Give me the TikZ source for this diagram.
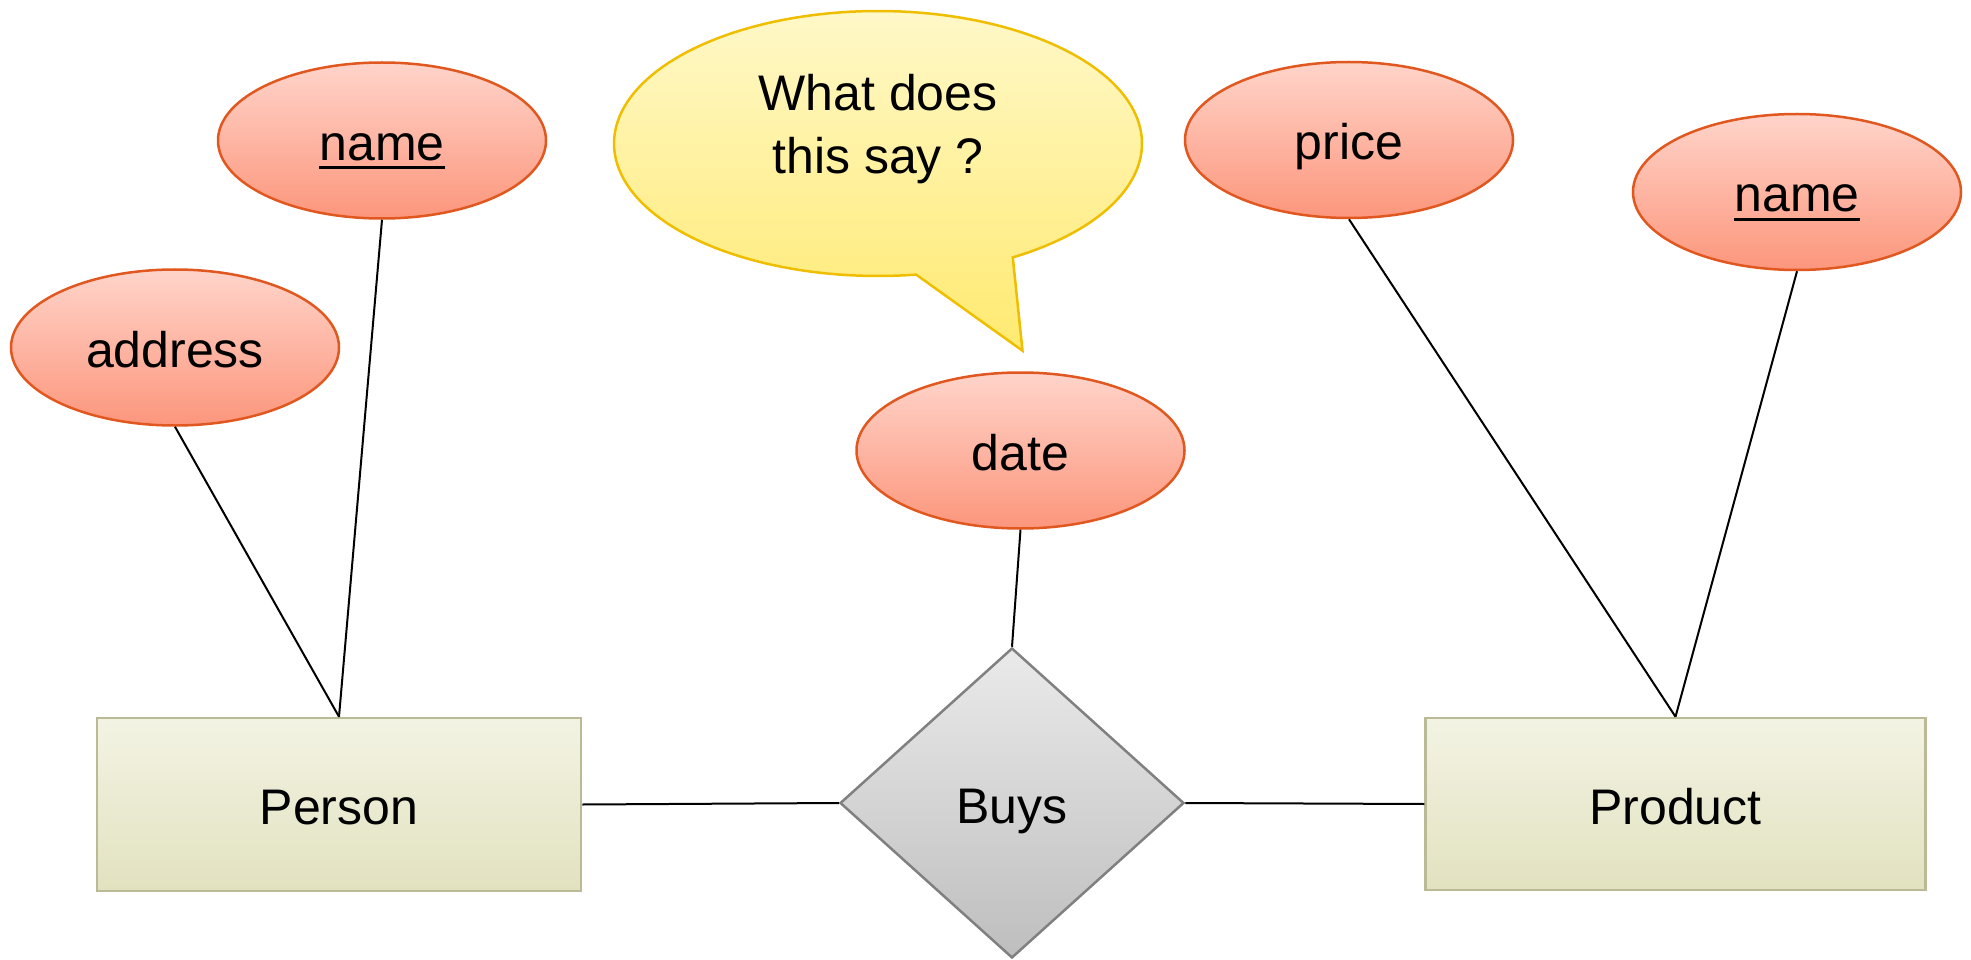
\documentclass[tikz,border=0pt]{standalone}
\usepackage{fontspec}
\setmainfont{Liberation Sans}
\usetikzlibrary{shapes.geometric}

\definecolor{attrtop}{RGB}{255,212,202}
\definecolor{attrbot}{RGB}{252,150,124}
\definecolor{attrline}{RGB}{224,88,32}
\definecolor{enttop}{RGB}{243,243,228}
\definecolor{entbot}{RGB}{226,226,192}
\definecolor{entline}{RGB}{186,186,150}
\definecolor{reltop}{RGB}{234,234,234}
\definecolor{relbot}{RGB}{190,190,190}
\definecolor{relline}{RGB}{128,128,128}
\definecolor{notetop}{RGB}{255,248,200}
\definecolor{notebot}{RGB}{255,234,112}
\definecolor{noteline}{RGB}{240,190,0}

% underlined key attribute
\newcommand\keyname[1]{\setbox0\hbox{#1}\rlap{\vrule height -6pt depth 9pt width \wd0}\box0}

\tikzset{
  label text/.style={font=\fontsize{50}{63}\selectfont, text height=52pt, text depth=12pt, inner sep=0pt},
  attr/.style={label text, ellipse, minimum width=328pt, minimum height=156pt,
    draw=attrline, line width=2.5pt, top color=attrtop, bottom color=attrbot},
  entity/.style={label text, rectangle, draw=entline, line width=2.5pt,
    top color=enttop, bottom color=entbot},
  relation/.style={label text, diamond, aspect=1.11, minimum width=344pt, minimum height=310pt,
    draw=relline, line width=2.5pt, top color=reltop, bottom color=relbot},
  link/.style={line width=2pt, black},
  callout/.style={draw=noteline, line width=2.5pt, top color=notetop, bottom color=notebot},
}

\begin{document}
\begin{tikzpicture}[x=1pt,y=-1pt]
\useasboundingbox (0,0) rectangle (1971,960);

% speech bubble
\path[callout] plot[domain=81.7:419.3, samples=160] ({878+264*cos(\x)},{143.5+132.5*sin(\x)})
  -- (1022.5,350.7) -- cycle;
\node[font=\fontsize{50}{63}\selectfont, align=center, inner sep=0pt] (note) at (878,129)
  {What does\\this say ?};

% entities and relationship
\node[entity, minimum width=484pt, minimum height=173pt] (person) at (339,804.5) {Person};
\node[entity, minimum width=500pt, minimum height=172pt] (product) at (1675.5,804) {Product};
\node[relation] (buys) at (1012,803) {Buys};

% attributes
\node[attr] (pname) at (382,140.5) {\keyname{name}};
\node[attr] (address) at (175,347.5) {address};
\node[attr] (date) at (1020.5,450.5) {date};
\node[attr] (price) at (1349,140) {price};
\node[attr] (prname) at (1797,192) {\keyname{name}};

% connectors
\draw[link] (address.south) -- (person.north);
\draw[link] (pname.south) -- (person.north);
\draw[link] (date.south) -- (buys.north);
\draw[link] (price.south) -- (product.north);
\draw[link] (prname.south) -- (product.north);
\draw[link] (person.east) -- (buys.west);
\draw[link] (buys.east) -- (product.west);
\end{tikzpicture}
\end{document}
